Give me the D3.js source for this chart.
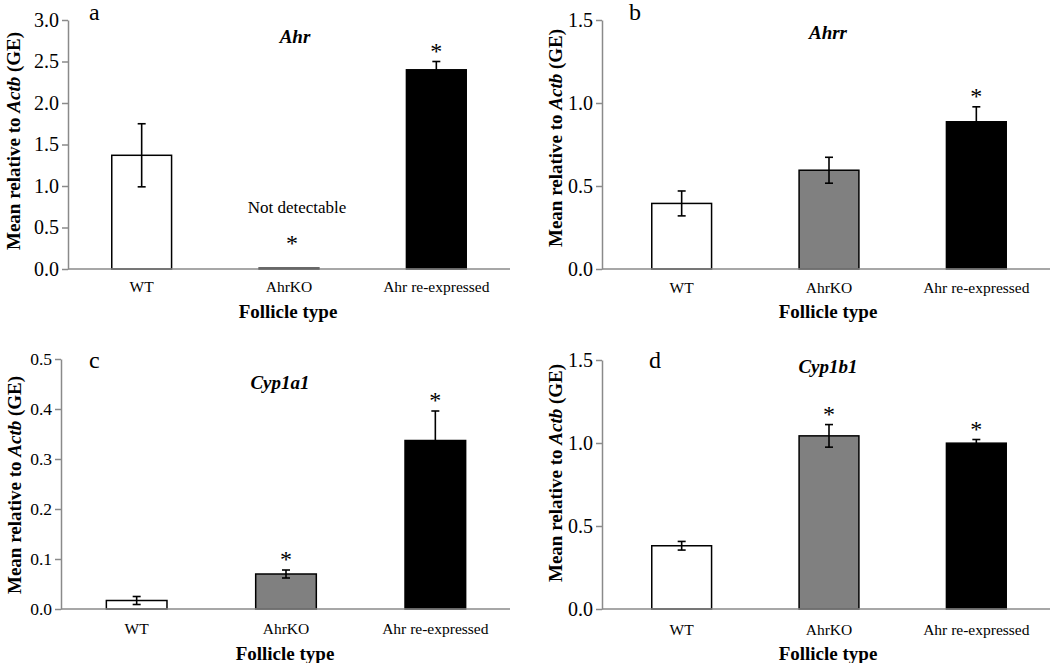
<!DOCTYPE html>
<html>
<head>
<meta charset="utf-8">
<script src="https://cdn.jsdelivr.net/npm/d3@7"></script>
<style>
  html, body { margin: 0; padding: 0; background: #fff; }
  svg { display: block; }
</style>
</head>
<body>
<svg id="chart" width="1050" height="663"></svg>
<script>
// ---------------- data ----------------
const categories = ["WT", "AhrKO", "Ahr re-expressed"];

const ahrMeans = [1.37, 0.01, 2.40];
const ahrErrors = [0.38, 0, 0.10];
const ahrSignificant = [false, true, true];
const ahrTicks = [0, 0.5, 1.0, 1.5, 2.0, 2.5, 3.0];

const ahrrMeans = [0.395, 0.595, 0.887];
const ahrrErrors = [0.075, 0.078, 0.09];
const ahrrSignificant = [false, false, true];
const ahrrTicks = [0, 0.5, 1.0, 1.5];

const cyp1a1Means = [0.017, 0.070, 0.337];
const cyp1a1Errors = [0.008, 0.008, 0.059];
const cyp1a1Significant = [false, true, true];
const cyp1a1Ticks = [0, 0.1, 0.2, 0.3, 0.4, 0.5];

const cyp1b1Means = [0.381, 1.043, 0.999];
const cyp1b1Errors = [0.026, 0.068, 0.022];
const cyp1b1Significant = [false, true, true];
const cyp1b1Ticks = [0, 0.5, 1.0, 1.5];

const notDetectable = [false, true, false]; // panel a only
const barFills = ["#ffffff", "#808080", "#000000"];

// ---------------- layout ----------------
const FONT = "'Liberation Serif', 'Times New Roman', Times, serif";
const panels = [
  { letter: "a", gene: "Ahr", means: ahrMeans, errors: ahrErrors, sig: ahrSignificant, ticks: ahrTicks,
    nd: notDetectable, axisX: 68, bandL: 68, bandR: 510, y0: 269, y1: 20, tickFont: 20,
    letterX: 89, letterY: 20, geneX: 295, geneY: 43, xLabY: 292, xTitleY: 318, yLabX: 20, yLabY: 141 },
  { letter: "b", gene: "Ahrr", means: ahrrMeans, errors: ahrrErrors, sig: ahrrSignificant, ticks: ahrrTicks,
    nd: null, axisX: 602, bandL: 608, bandR: 1050, y0: 269, y1: 20, tickFont: 20,
    letterX: 629, letterY: 20, geneX: 828, geneY: 39, xLabY: 293, xTitleY: 318, yLabX: 562, yLabY: 138 },
  { letter: "c", gene: "Cyp1a1", means: cyp1a1Means, errors: cyp1a1Errors, sig: cyp1a1Significant, ticks: cyp1a1Ticks,
    nd: null, axisX: 61, bandL: 62, bandR: 510, y0: 609, y1: 359, tickFont: 17.5,
    letterX: 89, letterY: 368, geneX: 280, geneY: 389, xLabY: 634, xTitleY: 660, yLabX: 21, yLabY: 485 },
  { letter: "d", gene: "Cyp1b1", means: cyp1b1Means, errors: cyp1b1Errors, sig: cyp1b1Significant, ticks: cyp1b1Ticks,
    nd: null, axisX: 602, bandL: 608, bandR: 1050, y0: 609, y1: 360, tickFont: 20,
    letterX: 649, letterY: 368, geneX: 828, geneY: 373, xLabY: 635, xTitleY: 660, yLabX: 562, yLabY: 473 }
];

const svg = d3.select("#chart");
const axisColor = "#8a8a8a";
const fmt = d3.format(".1f");

panels.forEach(p => {
  const g = svg.append("g").attr("font-family", FONT);
  const yMax = p.ticks[p.ticks.length - 1];
  const y = d3.scaleLinear().domain([0, yMax]).range([p.y0, p.y1]);
  const x = d3.scaleBand().domain(categories).range([p.bandL, p.bandR])
    .paddingInner(0.594).paddingOuter(0.297);

  // y axis (ticks + domain from d3, labels drawn explicitly)
  const yAxis = d3.axisLeft(y).tickValues(p.ticks).tickFormat("")
    .tickSize(6).tickSizeOuter(0);
  const ya = g.append("g").attr("transform", `translate(${p.axisX},0)`).call(yAxis);
  ya.select(".domain").attr("stroke", axisColor).attr("stroke-width", 1.5);
  ya.selectAll(".tick line").attr("stroke", axisColor).attr("stroke-width", 1.5);
  ya.selectAll(".tick text").remove();

  g.selectAll("text.ytick").data(p.ticks).join("text")
    .attr("class", "ytick")
    .attr("x", p.axisX - 9)
    .attr("y", d => y(d))
    .attr("dy", "0.34em")
    .attr("text-anchor", "end")
    .attr("font-family", FONT)
    .attr("font-size", p.tickFont)
    .attr("fill", "#000")
    .text(d => fmt(d));

  // bars
  const data = categories.map((c, i) => ({ c, m: p.means[i], e: p.errors[i], s: p.sig[i], i }));
  g.selectAll("rect.bar").data(data).join("rect")
    .attr("class", "bar")
    .attr("x", d => x(d.c))
    .attr("width", x.bandwidth())
    .attr("y", d => y(d.m))
    .attr("height", d => y(0) - y(d.m))
    .attr("fill", d => barFills[d.i])
    .attr("stroke", "#000").attr("stroke-width", 1.5);

  // x axis baseline
  g.append("line").attr("x1", p.axisX).attr("x2", p.bandR)
    .attr("y1", y(0)).attr("y2", y(0)).attr("stroke", axisColor).attr("stroke-width", 1.5);

  // error bars
  const cap = 4;
  const eb = g.selectAll("g.err").data(data.filter(d => d.e > 0)).join("g").attr("class", "err");
  eb.append("line")
    .attr("x1", d => x(d.c) + x.bandwidth() / 2).attr("x2", d => x(d.c) + x.bandwidth() / 2)
    .attr("y1", d => y(d.m - d.e)).attr("y2", d => y(d.m + d.e))
    .attr("stroke", "#000").attr("stroke-width", 1.6);
  eb.append("line")
    .attr("x1", d => x(d.c) + x.bandwidth() / 2 - cap).attr("x2", d => x(d.c) + x.bandwidth() / 2 + cap)
    .attr("y1", d => y(d.m + d.e)).attr("y2", d => y(d.m + d.e))
    .attr("stroke", "#000").attr("stroke-width", 1.6);
  eb.append("line")
    .attr("x1", d => x(d.c) + x.bandwidth() / 2 - cap).attr("x2", d => x(d.c) + x.bandwidth() / 2 + cap)
    .attr("y1", d => y(d.m - d.e)).attr("y2", d => y(d.m - d.e))
    .attr("stroke", "#000").attr("stroke-width", 1.6);

  // significance asterisks
  g.selectAll("text.ast").data(data.filter(d => d.s)).join("text")
    .attr("class", "ast")
    .attr("x", d => x(d.c) + x.bandwidth() / 2 + (p.nd && p.nd[d.i] ? 3 : 0))
    .attr("y", d => (p.nd && p.nd[d.i]) ? y(0) - 18 : y(d.m + d.e) - 3)
    .attr("text-anchor", "middle").attr("font-size", 24)
    .text("*");

  // "Not detectable"
  if (p.nd) {
    g.selectAll("text.nd").data(data.filter(d => p.nd[d.i])).join("text")
      .attr("class", "nd")
      .attr("x", d => x(d.c) + x.bandwidth() / 2 + 8)
      .attr("y", y(0) - 56)
      .attr("text-anchor", "middle").attr("font-size", 17)
      .text("Not detectable");
  }

  // category labels
  g.selectAll("text.cat").data(data).join("text")
    .attr("class", "cat")
    .attr("x", d => x(d.c) + x.bandwidth() / 2)
    .attr("y", p.xLabY)
    .attr("text-anchor", "middle").attr("font-size", 15.5)
    .text(d => d.c);

  // x title
  g.append("text").attr("x", (p.bandL + p.bandR) / 2 - 1).attr("y", p.xTitleY)
    .attr("text-anchor", "middle").attr("font-size", 19).attr("font-weight", "bold")
    .text("Follicle type");

  // y title
  const yt = g.append("text")
    .attr("transform", `translate(${p.yLabX},${p.yLabY}) rotate(-90)`)
    .attr("text-anchor", "middle").attr("font-size", 19).attr("font-weight", "bold");
  yt.append("tspan").text("Mean relative to ");
  yt.append("tspan").attr("font-style", "italic").text("Actb");
  yt.append("tspan").text(" (GE)");

  // panel letter
  g.append("text").attr("x", p.letterX).attr("y", p.letterY)
    .attr("font-size", 24).text(p.letter);

  // gene title
  g.append("text").attr("x", p.geneX).attr("y", p.geneY)
    .attr("text-anchor", "middle").attr("font-size", 19)
    .attr("font-weight", "bold").attr("font-style", "italic")
    .text(p.gene);
});
</script>
</body>
</html>
